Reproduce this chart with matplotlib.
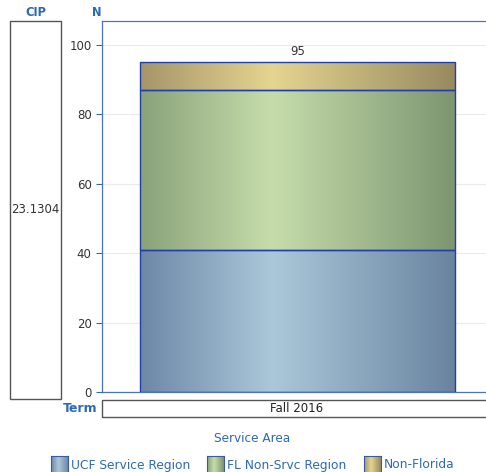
import numpy as np
import matplotlib
matplotlib.use("Agg")
import matplotlib.pyplot as plt
from matplotlib.colors import LinearSegmentedColormap
from matplotlib.patches import Rectangle

# data
terms = ["Fall 2016"]
cip = "23.1304"
series = ["UCF Service Region", "FL Non-Srvc Region", "Non-Florida"]
ucf = [41]
fl_non = [46]
non_fl = [8]
totals = [a + b + c for a, b, c in zip(ucf, fl_non, non_fl)]

# gradient colors (edge, centre, edge)
grads = [
    ["#6d88a6", "#abc8da", "#6a84a0"],
    ["#89a279", "#c6ddab", "#7d9671"],
    ["#a6956a", "#e4d590", "#988a60"],
]

BLUE = "#2a6ab8"
W, H = 486, 472
fig = plt.figure(figsize=(W / 100, H / 100), dpi=100)

def fx(px):
    return px / W

def fy(py):
    return 1 - py / H

ax = fig.add_axes([fx(102), fy(392), fx(492 - 102), fy(21) - fy(392)])

x = np.arange(len(terms))
bottom = np.zeros(len(terms))
for vals, g in zip([ucf, fl_non, non_fl], grads):
    bars = ax.bar(x, vals, 0.8, bottom=bottom, facecolor="none",
                  edgecolor="#1f40aa", linewidth=1.0, zorder=3)
    cmap = LinearSegmentedColormap.from_list("g", list(zip([0, 0.42, 1], g)))
    grad = np.linspace(0, 1, 256).reshape(1, -1)
    for b in bars:
        x0, y0 = b.get_x(), b.get_y()
        im = ax.imshow(grad, cmap=cmap, aspect="auto", zorder=2,
                       extent=[x0, x0 + b.get_width(), y0, y0 + b.get_height()])
        im.set_clip_path(b)
    bottom += np.array(vals)

ax.set_xlim(-0.4965, 0.494)
ax.set_ylim(0, 106.9)

for xi, t in zip(x, totals):
    ax.text(xi, t + 1.3, str(t), ha="center", va="bottom", fontsize=8.5, color="#333333")

ax.set_yticks([0, 20, 40, 60, 80, 100])
ax.set_xticks([])
ax.yaxis.grid(True, color="#ebebeb", linewidth=0.8)
ax.set_axisbelow(True)
ax.tick_params(axis="y", colors=BLUE, labelcolor="#333333", labelsize=8.5, length=4, width=0.8)
for s in ["left", "top", "bottom"]:
    ax.spines[s].set_color("#4a72c8")
    ax.spines[s].set_linewidth(0.9)
ax.spines["right"].set_visible(False)

# CIP panel
fig.patches.append(Rectangle((fx(10), fy(399)), fx(61 - 10), fy(21) - fy(399),
                             transform=fig.transFigure, fill=False,
                             edgecolor="#555555", linewidth=1.0))
fig.text(fx(35.5), fy(210), cip, ha="center", va="center", fontsize=8.5, color="#333333")
fig.text(fx(36), fy(12), "CIP", ha="center", va="center", fontsize=8.3,
         color=BLUE, fontweight="bold")
fig.text(fx(97), fy(12), "N", ha="center", va="center", fontsize=8.3,
         color=BLUE, fontweight="bold")

# term strip
fig.patches.append(Rectangle((fx(102), fy(417)), fx(490 - 102), fy(400) - fy(417),
                             transform=fig.transFigure, fill=False,
                             edgecolor="#555555", linewidth=1.0))
fig.text(fx(297), fy(409), terms[0], ha="center", va="center", fontsize=8.5, color="#222222")
fig.text(fx(80), fy(409), "Term", ha="center", va="center", fontsize=9,
         color=BLUE, fontweight="bold")

# legend
fig.text(fx(252), fy(438), "Service Area", ha="center", va="center", fontsize=8.7, color=BLUE)
sw_x = [51, 207, 364]
for sx, name, g in zip(sw_x, series, grads):
    sax = fig.add_axes([fx(sx), fy(474), fx(17), fy(456) - fy(474)])
    cmap = LinearSegmentedColormap.from_list("g", list(zip([0, 0.42, 1], g)))
    sax.imshow(np.linspace(0, 1, 64).reshape(1, -1), cmap=cmap, aspect="auto")
    sax.set_xticks([])
    sax.set_yticks([])
    for s in sax.spines.values():
        s.set_color("#3a5aa8")
        s.set_linewidth(0.8)
    fig.text(fx(sx + 20), fy(465), name, ha="left", va="center", fontsize=8.8, color=BLUE)

fig.savefig("out.png", dpi=100)
